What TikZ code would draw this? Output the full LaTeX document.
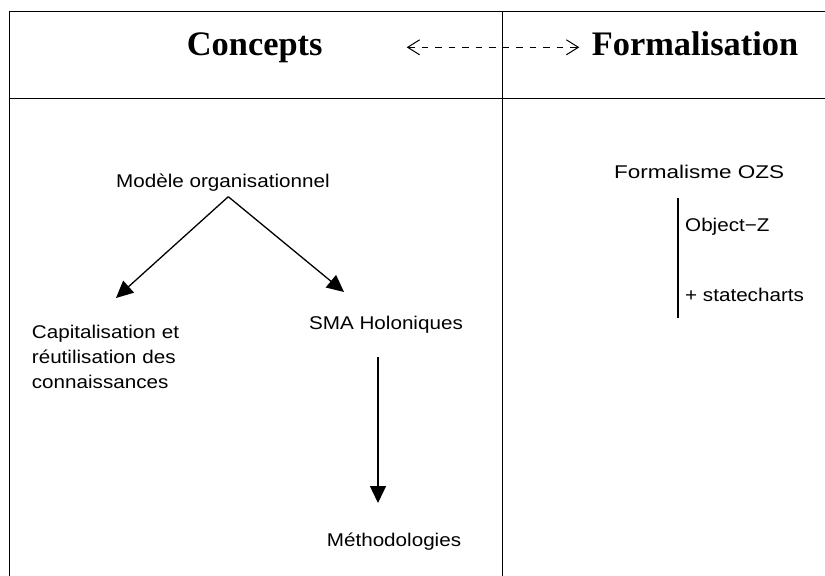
\documentclass[tikz,border=0pt]{standalone}
\usepackage{fontspec}
\setmainfont{Liberation Serif}
\newfontfamily\sansw[FakeStretch=1.12]{Liberation Sans}
\usetikzlibrary{arrows.meta}
\begin{document}
\begin{tikzpicture}[x=1bp,y=-1bp,
  frame/.style={line width=1bp},
  head/.style={font=\fontsize{34.5}{40}\selectfont\bfseries, inner sep=0, anchor=base west},
  lbl/.style={font=\sansw\fontsize{18.5}{25.5}\selectfont, inner sep=0},
  conn/.style={line width=1.3bp, -{Triangle[length=17bp,width=16bp]}},
  link/.style={line width=0.9bp, dash pattern=on 6.5bp off 7bp,
     {Straight Barb[length=12bp,width=15bp,line width=1bp]}-{Straight Barb[length=12bp,width=15bp,line width=1bp]}}]
\useasboundingbox (0,0) rectangle (825,576);
\fill[white] (0,0) rectangle (825,576);
% frame
\draw[frame] (9.5,576) -- (9.5,12) -- (825,12);
\draw[frame] (9.5,99) -- (825,99);
\draw[frame] (502,12) -- (502,576);
% headings
\node[head] (concepts) at (186.7,56) {Concepts};
\node[head] (formal) at (591.7,56) {Formalisation};
\coordinate (la) at (406.7,47.3);
\coordinate (ra) at (579.3,47.3);
\draw[link] (la) -- (ra);
% left side
\node[lbl, anchor=base west] (modele) at (116,187.3) {Modèle organisationnel};
\node[lbl, anchor=base west, text width=200bp, align=left] (capit) at (31.7,338)
  {Capitalisation et\\réutilisation des\\connaissances};
\node[lbl, anchor=base] (sma) at (386,329) {SMA Holoniques};
\node[lbl, anchor=base] (metho) at (394,546.7) {Méthodologies};
\coordinate (apex) at (228.3,196.7);
\coordinate (tipL) at (116,298);
\coordinate (tipR) at (344,292);
\coordinate (vtop) at (378,357);
\coordinate (vtip) at (378,503);
\draw[conn] (apex) -- (tipL);
\draw[conn] (apex) -- (tipR);
\draw[conn] (vtop) -- (vtip);
% right side
\node[lbl, anchor=base west] (ozs) at (614,179) {\scalebox{1.09}[1]{Formalisme OZS}};
\node[lbl, anchor=base west] (objz) at (685,231.7) {Object−Z};
\node[lbl, anchor=base west] (state) at (685,301.7) {+ statecharts};
\draw[line width=1.5bp] (678,198) -- (678,318);
\end{tikzpicture}
\end{document}
